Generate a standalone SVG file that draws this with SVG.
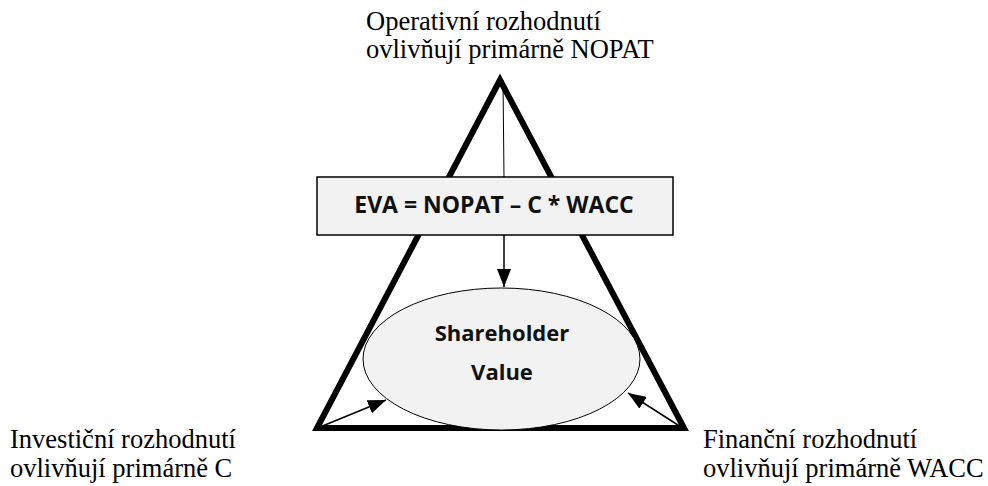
<svg xmlns="http://www.w3.org/2000/svg" width="988" height="486" viewBox="0 0 988 486">
<style>
.lbl{font-family:"Liberation Serif","Times New Roman",serif;font-size:26.5px;fill:#000}
.bold{font-family:"Open Sans","Liberation Sans",sans-serif;font-weight:bold;fill:#111;text-anchor:middle}
</style>
<defs>
<marker id="ah2" markerWidth="18" markerHeight="14" refX="18" refY="7" orient="auto" markerUnits="userSpaceOnUse" viewBox="0 0 18 14">
<path d="M0,0 L18,7 L0,14 z" fill="#000"/>
</marker>
</defs>
<g id="triangle">
<polygon points="500,80 317,428 684,428" fill="none" stroke="#000" stroke-width="6" stroke-linejoin="miter"/>
</g>
<g id="connectors">
<line x1="503" y1="80" x2="504" y2="178" stroke="#000" stroke-width="1"/>
<line x1="504" y1="235" x2="504" y2="287" stroke="#000" stroke-width="1.5" marker-end="url(#ah2)"/>
<line x1="320" y1="427" x2="386" y2="400" stroke="#000" stroke-width="1.5" marker-end="url(#ah2)"/>
<line x1="681" y1="427" x2="628" y2="393" stroke="#000" stroke-width="1.5" marker-end="url(#ah2)"/>
</g>
<g id="eva">
<rect x="317" y="177" width="356" height="58" fill="#f2f2f2" stroke="#000" stroke-width="1.5"/>
<text class="bold" x="494" y="213" font-size="23">EVA = NOPAT – C * WACC</text>
</g>
<g id="shv">
<ellipse cx="501.5" cy="359" rx="138.5" ry="71" fill="#f2f2f2" stroke="#000" stroke-width="1"/>
<text class="bold" x="502" y="341" font-size="22">Shareholder</text>
<text class="bold" x="502" y="380" font-size="22">Value</text>
</g>
<g id="top-label">
<text class="lbl" x="366" y="30">Operativní rozhodnutí</text>
<text class="lbl" x="366" y="58">ovlivňují primárně NOPAT</text>
</g>
<g id="left-label">
<text class="lbl" x="10" y="448">Investiční rozhodnutí</text>
<text class="lbl" x="10" y="477">ovlivňují primárně C</text>
</g>
<g id="right-label">
<text class="lbl" x="703" y="448">Finanční rozhodnutí</text>
<text class="lbl" x="703" y="477">ovlivňují primárně WACC</text>
</g>
</svg>
